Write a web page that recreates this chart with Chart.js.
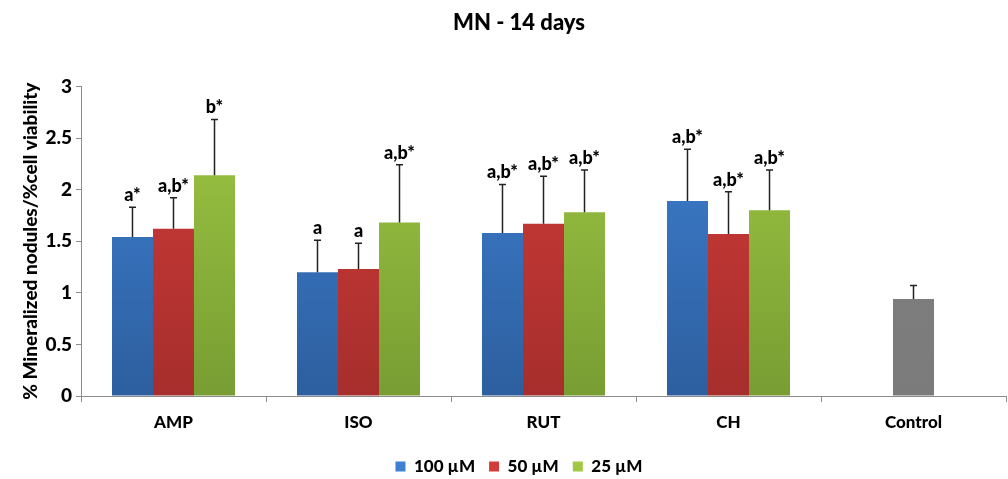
<!DOCTYPE html>
<html>
<head>
<meta charset="utf-8">
<title>MN - 14 days</title>
<script src="https://cdn.jsdelivr.net/npm/chart.js@4.4.1/dist/chart.umd.min.js"></script>
<style>
    html, body { margin: 0; padding: 0; background: #ffffff; }
    #wrap { width: 1008px; height: 479px; }
</style>
</head>
<body>
<div id="wrap"><canvas id="chart" width="1008" height="479"></canvas></div>
<script>
// Values
const categories = ['AMP', 'ISO', 'RUT', 'CH', 'Control'];

const means100 = [1.54, 1.20, 1.58, 1.89, null];
const errors100 = [0.29, 0.31, 0.47, 0.50, null];
const marks100 = ['a*', 'a', 'a,b*', 'a,b*', ''];

const means50 = [1.62, 1.23, 1.67, 1.57, null];
const errors50 = [0.30, 0.25, 0.46, 0.41, null];
const marks50 = ['a,b*', 'a', 'a,b*', 'a,b*', ''];

const means25 = [2.14, 1.68, 1.78, 1.80, null];
const errors25 = [0.54, 0.56, 0.41, 0.39, null];
const marks25 = ['b*', 'a,b*', 'a,b*', 'a,b*', ''];

const meansControl = [null, null, null, null, 0.94];
const errorsControl = [null, null, null, null, 0.13];
const marksControl = ['', '', '', '', ''];

const yTicks = [0, 0.5, 1, 1.5, 2, 2.5, 3];

const FONT = 'Lato, "Open Sans", sans-serif';
const WEIGHT = '900';

// top / bottom colours of the bar gradients
const shades = {
    blue: ['#3e80d2', '#2d5f9f'],
    red: ['#d23d3a', '#a62e2c'],
    green: ['#9fc843', '#789d33'],
    grey: ['#808080', '#7b7b7b']
};

function barFill(name) {
    return function(context) {
        const area = context.chart.chartArea;
        if (!area) return shades[name][0];
        const g = context.chart.ctx.createLinearGradient(0, area.top, 0, area.bottom);
        g.addColorStop(0, shades[name][0]);
        g.addColorStop(1, shades[name][1]);
        return g;
    };
}

// draws the SD whiskers and the significance letters above them
const errorBarPlugin = {
    id: 'errorBars',
    afterDatasetsDraw(chart) {
        const ctx = chart.ctx;
        const yScale = chart.scales.y;
        ctx.save();
        chart.data.datasets.forEach((ds, di) => {
            const meta = chart.getDatasetMeta(di);
            meta.data.forEach((bar, i) => {
                const v = ds.data[i];
                if (v === null || v === undefined) return;
                const yTop = yScale.getPixelForValue(v + ds.errors[i]);
                ctx.strokeStyle = '#222';
                ctx.lineWidth = 1.5;
                ctx.beginPath();
                ctx.moveTo(bar.x, bar.y);
                ctx.lineTo(bar.x, yTop);
                ctx.moveTo(bar.x - 3.5, yTop);
                ctx.lineTo(bar.x + 3.5, yTop);
                ctx.stroke();

                if (ds.marks[i]) {
                    ctx.fillStyle = '#000';
                    ctx.font = WEIGHT + ' 18px ' + FONT;
                    ctx.textAlign = 'center';
                    ctx.textBaseline = 'alphabetic';
                    ctx.fillText(ds.marks[i], bar.x, yTop - 6);
                }
            });
        });
        ctx.restore();
    }
};

// the title and legend sit a little right of the canvas centre in the original,
// and the legend a bit lower than Chart.js puts it
const headerShiftPlugin = {
    id: 'headerShift',
    afterLayout(chart) {
        [chart.titleBlock, chart.legend].forEach(box => {
            if (!box) return;
            box.left += 16;
            box.right += 16;
        });
        if (chart.legend) {
            chart.legend.top += 6;
            chart.legend.bottom += 6;
        }
    }
};

const legendColors = [shades.blue[0], shades.red[0], shades.green[0]];

const chart = new Chart(document.getElementById('chart'), {
    type: 'bar',
    data: {
        labels: categories,
        datasets: [
            { label: '100 µM', data: means100, errors: errors100, marks: marks100, backgroundColor: barFill('blue') },
            { label: '50 µM', data: means50, errors: errors50, marks: marks50, backgroundColor: barFill('red') },
            { label: '25 µM', data: means25, errors: errors25, marks: marks25, backgroundColor: barFill('green') },
            { label: 'Control', data: meansControl, errors: errorsControl, marks: marksControl, backgroundColor: barFill('grey'), maxBarThickness: 41 }
        ]
    },
    options: {
        responsive: false,
        animation: false,
        skipNull: true,
        categoryPercentage: 0.665,
        barPercentage: 1.0,
        layout: { padding: { left: 0, right: 2, top: 0, bottom: 0 } },
        plugins: {
            title: {
                display: true,
                text: 'MN - 14 days',
                color: '#000',
                font: { family: FONT, size: 22, weight: WEIGHT },
                padding: { top: 10, bottom: 50 }
            },
            legend: {
                position: 'bottom',
                labels: {
                    color: '#000',
                    font: { family: FONT, size: 17, weight: WEIGHT },
                    boxWidth: 10,
                    boxHeight: 10,
                    padding: 14,
                    generateLabels: function(chart) {
                        return chart.data.datasets.slice(0, 3).map((ds, i) => ({
                            text: ds.label,
                            fillStyle: legendColors[i],
                            strokeStyle: legendColors[i],
                            lineWidth: 0,
                            datasetIndex: i
                        }));
                    }
                }
            },
            tooltip: { enabled: false }
        },
        scales: {
            x: {
                afterFit: function(scale) {
                    scale.height = 42;
                },
                grid: {
                    display: true,
                    drawOnChartArea: false,
                    drawTicks: true,
                    tickLength: 6,
                    color: '#8c8c8c'
                },
                border: { color: '#8c8c8c', width: 1 },
                ticks: {
                    color: '#000',
                    padding: 10,
                    font: { family: FONT, size: 17, weight: WEIGHT }
                }
            },
            y: {
                min: 0,
                max: 3,
                afterBuildTicks: function(scale) {
                    scale.ticks = yTicks.map(v => ({ value: v }));
                },
                afterFit: function(scale) {
                    scale.width = 81;
                },
                grid: {
                    display: true,
                    drawOnChartArea: false,
                    drawTicks: true,
                    tickLength: 5,
                    color: '#8c8c8c'
                },
                border: { color: '#8c8c8c', width: 1 },
                ticks: {
                    color: '#000',
                    padding: 4,
                    font: { family: FONT, size: 19, weight: WEIGHT },
                    callback: function(value) {
                        return String(value);
                    }
                },
                title: {
                    display: true,
                    text: '% Mineralized nodules/%cell viability',
                    color: '#000',
                    font: { family: FONT, size: 19, weight: WEIGHT },
                    padding: { top: 19, bottom: 0 }
                }
            }
        }
    },
    plugins: [errorBarPlugin, headerShiftPlugin]
});
</script>
</body>
</html>
